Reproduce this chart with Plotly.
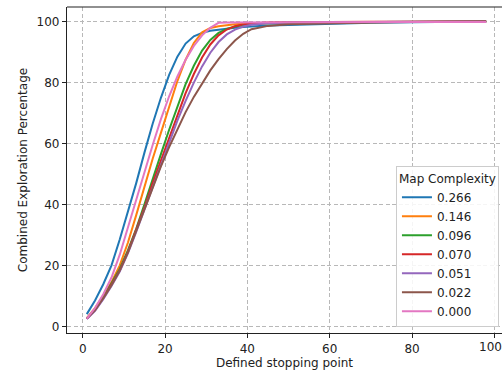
import plotly.graph_objects as go

x_vals = [1, 3, 5, 7, 9, 11, 13, 15, 17, 19, 21, 23, 25, 27, 29, 31, 33, 35, 37, 39, 41,
          45, 50, 55, 60, 70, 80, 90, 98]

c_0266 = [4.0, 8.5, 13.8, 20.0, 28.5, 37.5, 47.0, 57.0, 66.5, 75.0, 82.5, 88.5, 92.8, 95.2, 96.3,
          97.0, 97.4, 97.7, 98.0, 98.2, 98.4, 98.7, 98.9, 99.1, 99.3, 99.6, 99.8, 99.9, 100.0]
c_0146 = [2.7, 6.0, 10.0, 14.5, 20.0, 27.5, 36.5, 46.0, 55.0, 63.5, 72.0, 80.5, 87.5, 93.0, 96.5,
          97.9, 98.5, 98.9, 99.1, 99.3, 99.4, 99.6, 99.7, 99.75, 99.8, 99.85, 99.9, 99.95, 100.0]
c_0096 = [2.6, 5.5, 9.5, 14.0, 18.8, 25.0, 32.0, 40.0, 48.5, 56.5, 64.5, 72.0, 79.5, 85.5, 90.5,
          94.0, 96.3, 97.6, 98.4, 98.9, 99.2, 99.5, 99.7, 99.75, 99.8, 99.9, 99.95, 99.97, 100.0]
c_0070 = [2.5, 5.3, 9.2, 13.6, 18.4, 24.5, 31.5, 39.0, 47.0, 54.5, 62.0, 69.5, 76.5, 82.8, 88.2,
          92.5, 95.5, 97.4, 98.5, 99.1, 99.4, 99.7, 99.8, 99.85, 99.9, 99.93, 99.95, 99.97, 100.0]
c_0051 = [2.4, 5.1, 8.9, 13.2, 18.0, 24.0, 31.0, 38.3, 46.0, 53.5, 60.5, 67.5, 74.0, 80.0, 85.3,
          89.8, 93.3, 95.8, 97.4, 98.4, 99.0, 99.5, 99.7, 99.8, 99.85, 99.9, 99.95, 99.97, 100.0]
c_0022 = [2.5, 5.3, 9.2, 13.5, 18.3, 24.3, 31.3, 38.5, 45.8, 52.5, 58.8, 64.8, 70.3, 75.3, 79.8,
          84.0, 87.7, 91.0, 93.8, 96.0, 97.5, 98.6, 99.1, 99.3, 99.5, 99.7, 99.85, 99.95, 100.0]
c_0000 = [2.5, 6.0, 10.5, 16.0, 23.5, 32.5, 42.0, 51.0, 59.5, 68.0, 75.5, 82.0, 87.5, 92.0, 95.5,
          98.0, 99.6, 99.7, 99.72, 99.74, 99.75, 99.77, 99.8, 99.82, 99.85, 99.87, 99.88, 99.9, 99.9]

labels = ["0.266", "0.146", "0.096", "0.070", "0.051", "0.022", "0.000"]
series = [c_0266, c_0146, c_0096, c_0070, c_0051, c_0022, c_0000]
colors = ["#1f77b4", "#ff7f0e", "#2ca02c", "#d62728", "#9467bd", "#8c564b", "#e377c2"]

x_ticks = [0, 20, 40, 60, 80, 100]
y_ticks = [0, 20, 40, 60, 80, 100]
edge_tick = 100  # the last x tick label, at the figure's right edge

font_family = "DejaVu Sans"

fig = go.Figure()
for lab, ys, col in zip(labels, series, colors):
    fig.add_trace(go.Scatter(x=x_vals, y=ys, mode="lines", name=lab,
                             line=dict(color=col, width=2)))

axis_common = dict(
    showgrid=True, gridcolor="#b8b8b8", gridwidth=1, griddash="4px,2.5px",
    showline=True, linecolor="#222222", linewidth=1.2,
    ticks="outside", ticklen=4, tickcolor="#222222", tickwidth=1,
    zeroline=False, tickfont=dict(family=font_family, size=12, color="#222222"),
)

fig.update_layout(
    width=502, height=374,
    margin=dict(l=67, r=0, t=7, b=41),
    paper_bgcolor="white", plot_bgcolor="white",
    font=dict(family=font_family, size=12, color="#222222"),
    xaxis=dict(range=[-3.81, 101.85], tickvals=x_ticks,
               title=dict(text="Defined stopping point", standoff=4,
                          font=dict(family=font_family, size=12)),
               **axis_common),
    yaxis=dict(range=[-2.2, 104.8], tickvals=y_ticks,
               title=dict(text="Combined Exploration Percentage", standoff=6,
                          font=dict(family=font_family, size=12)),
               **axis_common),
    legend=dict(
        title=dict(text="Map Complexity", side="top center",
                   font=dict(family=font_family, size=12)),
        x=0.993, xanchor="right", y=0.018, yanchor="bottom",
        bgcolor="rgba(255,255,255,0.85)", bordercolor="#cccccc", borderwidth=1,
        font=dict(family=font_family, size=12), tracegroupgap=0,
    ),
    shapes=[dict(type="line", xref="paper", yref="paper", x0=0, x1=1, y0=1, y1=1,
                 line=dict(color="#222222", width=1.2))],
    annotations=[dict(x=edge_tick, xref="x", y=0, yref="paper", text=str(edge_tick),
                      showarrow=False, xanchor="center", yanchor="top", yshift=-5,
                      xshift=-4,
                      font=dict(family=font_family, size=12, color="#222222"))],
)

fig.write_html("out.html")
